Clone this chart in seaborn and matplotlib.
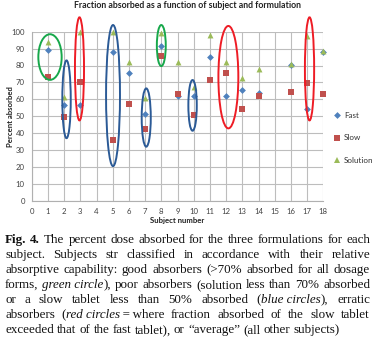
import numpy as np
import pandas as pd
import seaborn as sns
import matplotlib
matplotlib.use("Agg")
import matplotlib.pyplot as plt
from matplotlib.patches import Ellipse
from matplotlib.lines import Line2D

# ---- data -------------------------------------------------------------
subjects = [1, 2, 3, 5, 6, 7, 8, 9, 10, 11, 12, 13, 14, 16, 17, 18]
fast = [89.0, 56.7, 56.4, 88.2, 75.8, 51.5, 91.7, 62.0, 62.0, 85.2, 62.0, 65.4, 64.0, 80.5, 54.3, 88.2]
slow = [73.2, 49.8, 70.0, 36.1, 57.4, 42.2, 85.6, 63.0, 50.5, 71.4, 75.3, 54.1, 62.0, 64.1, 69.8, 63.0]
solution = [94.1, 61.5, 99.8, 99.7, 81.9, 60.8, 99.0, 81.8, 67.4, 98.0, 81.9, 72.6, 77.9, 80.8, 97.6, 88.4]
series_names = ["Fast", "Slow", "Solution"]

x_ticks = list(range(0, 19))
y_ticks = list(range(0, 101, 10))

title = "Fraction absorbed as a function of subject and formulation"
x_label = "Subject number"
y_label = "Percent absorbed"

# absorber groups: (centre subject, centre %, width, height, kind)
groups = [
    (1.13, 85.0, 1.44, 27.0, "good"),
    (8.00, 91.8, 0.55, 24.3, "good"),
    (2.15, 60.0, 0.52, 46.0, "poor"),
    (5.02, 62.2, 0.86, 83.5, "poor"),
    (7.07, 49.2, 0.56, 34.5, "poor"),
    (9.93, 56.4, 0.52, 30.0, "poor"),
    (2.95, 78.0, 0.56, 61.0, "erratic"),
    (12.14, 73.1, 1.23, 60.6, "erratic"),
    (17.15, 78.0, 0.57, 61.0, "erratic"),
]

df = pd.DataFrame({
    "subject": subjects * 3,
    "value": fast + slow + solution,
    "series": [n for n in series_names for _ in subjects],
})

# ---- styling ----------------------------------------------------------
sns.set_theme(style="white")
plt.rcParams["font.family"] = ["Lato", "DejaVu Sans"]

colors = {"Fast": "#4F81BD", "Slow": "#C0504D", "Solution": "#9BBB59"}
markers = {"Fast": "D", "Slow": "s", "Solution": "^"}
sizes = {"Fast": 12, "Slow": 17, "Solution": 18}
ring_colors = {"good": "#17A84B", "poor": "#2B5A96", "erratic": "#EE1C25"}

W, H = 376, 343
fig = plt.figure(figsize=(W / 100, H / 100), dpi=100)
fig.patch.set_facecolor("white")

ax_l, ax_r, ax_t, ax_b = 31.7, 323.3, 31.7, 200.7
ax = fig.add_axes([ax_l / W, 1 - ax_b / H, (ax_r - ax_l) / W, (ax_b - ax_t) / H])

for name in series_names:
    sns.scatterplot(
        data=df[df["series"] == name], x="subject", y="value",
        marker=markers[name], color=colors[name], s=sizes[name],
        linewidth=0, ax=ax, legend=False, zorder=3, clip_on=False,
    )

for cx, cy, w, h, kind in groups:
    ax.add_patch(Ellipse((cx, cy), w, h, fill=False, edgecolor=ring_colors[kind],
                         linewidth=1.4, zorder=4, clip_on=False))

ax.set_xlim(0, 18)
ax.set_ylim(0, 100)
ax.set_xticks(x_ticks)
ax.set_yticks(y_ticks)
ax.tick_params(axis="both", labelsize=5.6, colors="#404040", length=2.5,
               width=0.6, pad=2.5)
ax.tick_params(axis="both", color="#9a9a9a")
ax.grid(True, color="#bdbdbd", linewidth=0.8)
ax.set_axisbelow(True)
for side in ["left", "bottom", "right", "top"]:
    ax.spines[side].set_color("#b0b0b0")
    ax.spines[side].set_linewidth(0.8)
ax.spines["top"].set_visible(False)
ax.spines["right"].set_visible(False)

ax.set_xlabel(x_label, fontsize=5.6, fontweight="bold", color="#222222")
ax.set_ylabel(y_label, fontsize=5.6, fontweight="bold", color="#222222")
ax.xaxis.set_label_coords(0.5, -(220 - ax_b) / (ax_b - ax_t), transform=ax.transAxes)
ax.xaxis.label.set_va("center")
ax.yaxis.set_label_coords(-(ax_l - 10) / (ax_r - ax_l), 0.5, transform=ax.transAxes)
ax.yaxis.label.set_va("center")
fig.text(0.5 * (75 + 300) / W, 1 - 6 / H, title, ha="center", va="center",
         fontsize=6.3, fontweight="bold", color="#222222")

handles = [Line2D([], [], linestyle="none", marker=markers[n], color=colors[n],
                  markersize=np.sqrt(sizes[n]), markeredgewidth=0) for n in series_names]
ax.legend(handles, series_names, frameon=False, loc="center left",
          bbox_to_anchor=(335 / W, 1 - 138 / H), bbox_transform=fig.transFigure,
          fontsize=5.8, labelspacing=1.9, handlelength=0.6, handletextpad=0.5,
          labelcolor="#333333", borderaxespad=0, borderpad=0)

# ---- caption (justified) ----------------------------------------------
R = "normal"
caption = [
    [[("Fig.", "bold")], [("4.", "bold")], [("The", R)], [("percent", R)], [("dose", R)],
     [("absorbed", R)], [("for", R)], [("the", R)], [("three", R)], [("formulations", R)],
     [("for", R)], [("each", R)]],
    "subject. Subjects str classified in accordance with their relative",
    "absorptive capability: good absorbers (>70% absorbed for all dosage",
    [[("forms,", R)], [("green circle", "italic"), ("),", R)], [("poor", R)], [("absorbers", R)],
     [("(solution", R)], [("less", R)], [("than", R)], [("70%", R)], [("absorbed", R)]],
    [[("or", R)], [("a", R)], [("slow", R)], [("tablet", R)], [("less", R)], [("than", R)],
     [("50%", R)], [("absorbed", R)], [("(", R), ("blue circles", "italic"), ("),", R)],
     [("erratic", R)]],
    [[("absorbers", R)], [("(", R), ("red circles", "italic"), ("\u2009=\u2009where", R)],
     [("fraction", R)], [("absorbed", R)], [("of", R)], [("the", R)], [("slow", R)],
     [("tablet", R)]],
    "exceeded that of the fast tablet), or \u201caverage\u201d (all other subjects)",
]

cap_font = ["Liberation Serif", "DejaVu Serif"]
cap_size = 9.4
cap_left, cap_right = 5.0, 370.0
baseline0, line_step = 243.3, 15.0

fig.canvas.draw()
renderer = fig.canvas.get_renderer()


def props(style):
    p = dict(family=cap_font, fontsize=cap_size, color="#111111")
    if style == "bold":
        p["fontweight"] = "bold"
    elif style == "italic":
        p["fontstyle"] = "italic"
    return p


def width_of(text, style):
    t = fig.text(0, 0, text, **props(style))
    w = t.get_window_extent(renderer).width
    t.remove()
    return w


for i, line in enumerate(caption):
    if isinstance(line, str):
        words = [[(w, R)] for w in line.split(" ")]
    else:
        words = line
    word_w = [sum(width_of(txt, st) for txt, st in wd) for wd in words]
    justify = i < len(caption) - 1
    if justify:
        gap = (cap_right - cap_left - sum(word_w)) / (len(words) - 1)
    else:
        gap = width_of("a b", R) - width_of("ab", R)
    x = cap_left
    yb = 1 - (baseline0 + i * line_step) / H
    for wd, ww in zip(words, word_w):
        xx = x
        for txt, st in wd:
            fig.text(xx / W, yb, txt, ha="left", va="baseline", **props(st))
            xx += width_of(txt, st)
        x += ww + gap

fig.savefig("out.png", dpi=100, facecolor="white")
